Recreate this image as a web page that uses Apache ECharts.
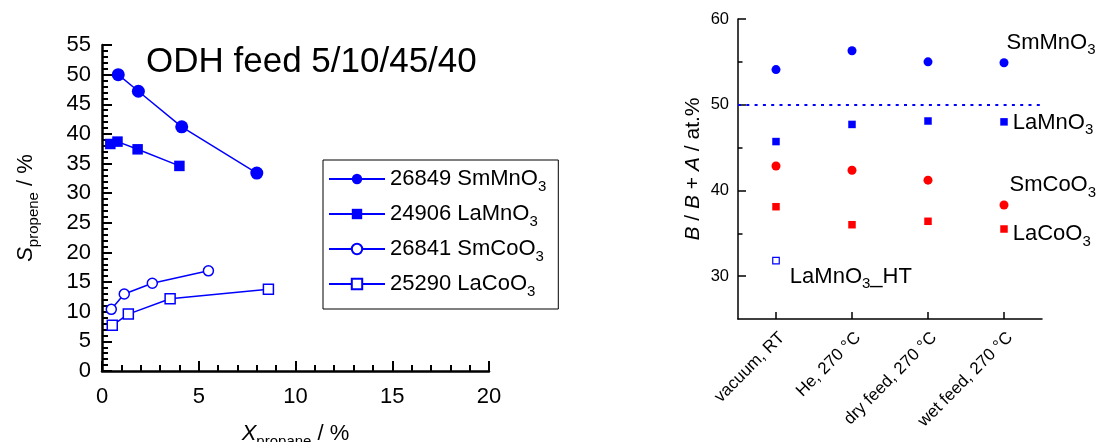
<!DOCTYPE html>
<html>
<head>
<meta charset="utf-8">
<script src="https://cdn.jsdelivr.net/npm/echarts@6/dist/echarts.min.js"></script>
<style>
html,body{margin:0;padding:0;background:#fff;}
#chart{width:1101px;height:442px;}
</style>
</head>
<body>
<div id="chart"></div>
<script>
// ---- Left panel data: X_propane (%) vs S_propene (%) ----
const smMnO3_x = [0.84, 1.88, 4.12, 8.0];
const smMnO3_y = [50.0, 47.2, 41.2, 33.4];
const laMnO3_x = [0.43, 0.8, 1.84, 4.0];
const laMnO3_y = [38.3, 38.7, 37.4, 34.6];
const smCoO3_x = [0.48, 1.15, 2.6, 5.5];
const smCoO3_y = [10.4, 13.0, 14.8, 16.9];
const laCoO3_x = [0.53, 1.36, 3.52, 8.6];
const laCoO3_y = [7.7, 9.6, 12.2, 13.8];
const leftNames = ['26849 SmMnO3', '24906 LaMnO3', '26841 SmCoO3', '25290 LaCoO3'];

// ---- Right panel data: B/(B+A) at.% by condition ----
const conditions = ['vacuum, RT', 'He, 270 \u00B0C', 'dry feed, 270 \u00B0C', 'wet feed, 270 \u00B0C'];
const r_SmMnO3 = [54.1, 56.3, 55.0, 54.9];
const r_LaMnO3 = [45.7, 47.7, 48.1, 48.0];
const r_SmCoO3 = [42.85, 42.35, 41.2, 38.3];
const r_LaCoO3 = [38.1, 36.0, 36.4, 35.5];
const r_LaMnO3_HT = [31.8, null, null, null];
const rightYTicks = [30, 40, 50, 60];
const rightYMinor = [35, 45, 55];

const BLUE = '#0000ff', RED = '#ff0000';
const FONT = 'Liberation Sans';

function zip(xs, ys) { return xs.map((x, i) => [x, ys[i]]); }
function subLabel(s) { return s.replace(/O3/, 'O{sub|3}'); }

const richSub = {
  sub: { fontSize: 15, lineHeight: 15, verticalAlign: 'bottom', fontFamily: FONT, color: '#000' },
  i: { fontSize: 22, fontStyle: 'italic', lineHeight: 30, fontFamily: FONT, color: '#000' }
};

function lastLabel(series, text, off) {
  return series.map((v, i) => {
    if (i === series.length - 1 || (text === 'LaMnO3_HT' && i === 0)) {
      return {
        value: v,
        label: {
          show: true, position: 'right', offset: off,
          formatter: subLabel(text),
          fontSize: 22, lineHeight: 30, fontFamily: FONT, color: '#000',
          rich: { sub: { fontSize: 15, lineHeight: 15, verticalAlign: 'bottom', fontFamily: FONT, color: '#000' } }
        }
      };
    }
    return v;
  });
}

const chart = echarts.init(document.getElementById('chart'));
const leftLine = { color: BLUE, width: 1.5 };

chart.setOption({
  animation: false,
  backgroundColor: '#fff',
  textStyle: { fontFamily: FONT },
  title: {
    text: 'ODH feed 5/10/45/40',
    left: 146, top: 45, padding: 0,
    textStyle: { fontSize: 35, fontWeight: 'normal', color: '#000', fontFamily: FONT }
  },
  legend: {
    data: leftNames,
    orient: 'vertical',
    left: 323, top: 160,
    padding: [4, 12, 10, 5],
    borderColor: '#000', borderWidth: 1,
    itemWidth: 56, itemHeight: 13, itemGap: 5,
    selectedMode: false,
    formatter: n => subLabel(n),
    textStyle: {
      fontSize: 22, lineHeight: 30, color: '#000', fontFamily: FONT,
      rich: { sub: { fontSize: 15, lineHeight: 15, verticalAlign: 'bottom', fontFamily: FONT, color: '#000' } }
    }
  },
  grid: [
    { left: 102, top: 45, width: 387, height: 326, outerBoundsMode: 'none', containLabel: false },
    { left: 738, top: 19, width: 304, height: 300, outerBoundsMode: 'none', containLabel: false }
  ],
  xAxis: [
    {
      type: 'value', gridIndex: 0, min: 0, max: 20, interval: 5,
      axisLine: { show: true, lineStyle: { color: '#000', width: 2.5 } },
      axisTick: { show: true, inside: true, length: 10, lineStyle: { color: '#000', width: 2 } },
      minorTick: { show: true, splitNumber: 5, length: 6, lineStyle: { color: '#000', width: 2 } },
      splitLine: { show: false },
      axisLabel: { fontSize: 22, color: '#000', margin: 15, fontFamily: FONT },
      name: '{i|X}{sub|propane} / %',
      nameLocation: 'middle', nameGap: 48,
      nameTextStyle: { fontSize: 22, lineHeight: 30, color: '#000', fontFamily: FONT, rich: richSub }
    },
    {
      type: 'category', gridIndex: 1, data: conditions, boundaryGap: true,
      axisLine: { show: true, lineStyle: { color: '#000', width: 1.5 } },
      axisTick: { show: true, inside: true, alignWithLabel: true, length: 7, lineStyle: { color: '#000', width: 1.5 } },
      axisLabel: { rotate: 45, fontSize: 17, color: '#000', margin: 10, verticalAlign: 'top', fontFamily: FONT, interval: 0 },
      splitLine: { show: false }
    }
  ],
  yAxis: [
    {
      type: 'value', gridIndex: 0, min: 0, max: 55, interval: 5,
      axisLine: { show: true, lineStyle: { color: '#000', width: 2.5 } },
      axisTick: { show: true, inside: true, length: 10, lineStyle: { color: '#000', width: 2 } },
      minorTick: { show: true, splitNumber: 5, length: 6, lineStyle: { color: '#000', width: 2 } },
      splitLine: { show: false },
      axisLabel: { fontSize: 22, color: '#000', margin: 11, fontFamily: FONT },
      name: '{i|S}{sub|propene} / %',
      nameLocation: 'middle', nameGap: 61, nameRotate: 90,
      nameTextStyle: { fontSize: 22, lineHeight: 30, color: '#000', fontFamily: FONT, rich: richSub }
    },
    {
      type: 'value', gridIndex: 1, min: 25, max: 60, position: 'left',
      axisLine: { show: true, lineStyle: { color: '#000', width: 1.5 } },
      axisTick: { show: true, inside: true, length: 8, customValues: rightYTicks, lineStyle: { color: '#000', width: 1.5 } },
      axisLabel: { customValues: rightYTicks, fontSize: 16.5, color: '#000', margin: 9, fontFamily: FONT },
      splitLine: { show: false },
      name: '{i|B} / {i|B} + {i|A} / at.%',
      nameLocation: 'middle', nameGap: 32, nameRotate: 90,
      nameTextStyle: { fontSize: 21, lineHeight: 26, color: '#000', fontFamily: FONT,
        rich: { i: { fontSize: 21, fontStyle: 'italic', lineHeight: 26, fontFamily: FONT, color: '#000' } } }
    },
    {
      type: 'value', gridIndex: 1, min: 25, max: 60, position: 'left', offset: 0,
      axisLine: { show: false, onZero: false },
      axisTick: { show: true, inside: true, length: 4.5, customValues: rightYMinor, lineStyle: { color: '#000', width: 1.5 } },
      axisLabel: { show: false },
      splitLine: { show: false }
    }
  ],
  series: [
    { name: leftNames[0], type: 'line', xAxisIndex: 0, yAxisIndex: 0, data: zip(smMnO3_x, smMnO3_y),
      symbol: 'circle', symbolSize: 13, lineStyle: leftLine, itemStyle: { color: BLUE } },
    { name: leftNames[1], type: 'line', xAxisIndex: 0, yAxisIndex: 0, data: zip(laMnO3_x, laMnO3_y),
      symbol: 'rect', symbolSize: 10.5, lineStyle: leftLine, itemStyle: { color: BLUE } },
    { name: leftNames[2], type: 'line', xAxisIndex: 0, yAxisIndex: 0, data: zip(smCoO3_x, smCoO3_y),
      symbol: 'circle', symbolSize: 10, lineStyle: leftLine, itemStyle: { color: '#fff', borderColor: BLUE, borderWidth: 1.5 } },
    { name: leftNames[3], type: 'line', xAxisIndex: 0, yAxisIndex: 0, data: zip(laCoO3_x, laCoO3_y),
      symbol: 'rect', symbolSize: 10, lineStyle: leftLine, itemStyle: { color: '#fff', borderColor: BLUE, borderWidth: 1.5 } },

    { name: 'SmMnO3', type: 'scatter', xAxisIndex: 1, yAxisIndex: 1, symbol: 'circle', symbolSize: 9,
      itemStyle: { color: BLUE, opacity: 1 }, data: lastLabel(r_SmMnO3, 'SmMnO3', [-7, -20]),
      markLine: { silent: true, symbol: 'none', label: { show: false },
        lineStyle: { color: BLUE, type: [3, 5.3], width: 2, opacity: 1 }, data: [{ yAxis: 50 }] } },
    { name: 'LaMnO3', type: 'scatter', xAxisIndex: 1, yAxisIndex: 1, symbol: 'rect', symbolSize: 7.5,
      itemStyle: { color: BLUE, opacity: 1 }, data: lastLabel(r_LaMnO3, 'LaMnO3', [0, 1]) },
    { name: 'SmCoO3', type: 'scatter', xAxisIndex: 1, yAxisIndex: 1, symbol: 'circle', symbolSize: 9,
      itemStyle: { color: RED, opacity: 1 }, data: lastLabel(r_SmCoO3, 'SmCoO3', [-4, -20]) },
    { name: 'LaCoO3', type: 'scatter', xAxisIndex: 1, yAxisIndex: 1, symbol: 'rect', symbolSize: 7.5,
      itemStyle: { color: RED, opacity: 1 }, data: lastLabel(r_LaCoO3, 'LaCoO3', [0, 5]) },
    { name: 'LaMnO3_HT', type: 'scatter', xAxisIndex: 1, yAxisIndex: 1, symbol: 'rect', symbolSize: 6.5,
      itemStyle: { color: '#fff', borderColor: BLUE, borderWidth: 1.2, opacity: 1 }, data: lastLabel(r_LaMnO3_HT, 'LaMnO3_HT', [5, 16]) }
  ]
});
</script>
</body>
</html>
